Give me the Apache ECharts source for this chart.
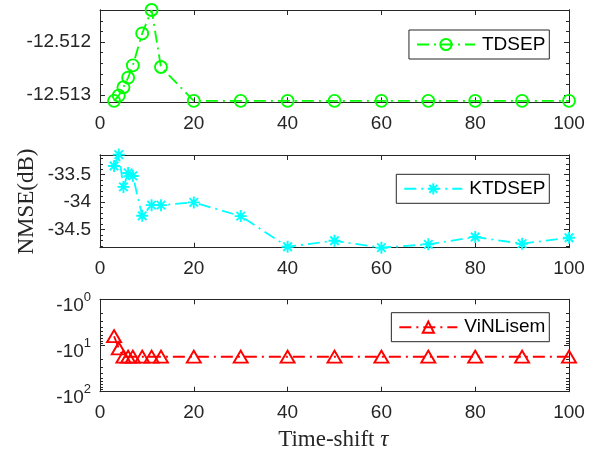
<!DOCTYPE html>
<html><head><meta charset="utf-8">
<script src="https://cdn.jsdelivr.net/npm/echarts@6/dist/echarts.min.js"></script>
<style>html,body{margin:0;padding:0;background:#fff}#c{width:600px;height:453px}</style>
</head><body><div id="c"></div>
<script>
// ---- data ----
const tau = [3, 4, 5, 6, 7, 9, 11, 13, 20, 30, 40, 50, 60, 70, 80, 90, 100];
const tdsep = [-12.513113, -12.513013, -12.512855, -12.512674, -12.51244, -12.511836, -12.511392, -12.512472,
  -12.513113, -12.513113, -12.513113, -12.513113, -12.513113, -12.513113, -12.513113, -12.513113, -12.513113];
const ktdsep = [-33.34, -33.133, -33.722, -33.467, -33.522, -34.249, -34.055, -34.055, -34.005, -34.255,
  -34.813, -34.704, -34.831, -34.769, -34.636, -34.758, -34.649];
const vinlisem = [-6.3, -11.5, -17.5, -17.5, -17.5, -17.5, -17.5, -17.5, -17.5, -17.5, -17.5, -17.5, -17.5, -17.5, -17.5, -17.5, -17.5];
const xTicks = [0, 20, 40, 60, 80, 100];
const tdsepTicks = [-12.513, -12.512];
const tdsepMinor = [-12.5128, -12.5126, -12.5124, -12.5122, -12.5118, -12.5116, -12.5114];
const ktdsepTicks = [-34.5, -34, -33.5];
const ktdsepMinor = [-34.8, -34.7, -34.6, -34.4, -34.3, -34.2, -34.1, -33.9, -33.8, -33.7, -33.6, -33.4, -33.3, -33.2];
const vinTicks = [1, 10, 100];
const vinMinor = [2, 3, 4, 5, 6, 7, 8, 9, 20, 30, 40, 50, 60, 70, 80, 90];
const names = ['TDSEP', 'KTDSEP', 'ViNLisem'];

// ---- layout/style ----
const AX = '#262626';
const SANS = 'Liberation Sans, Arial, Helvetica, sans-serif';
const SERIF = 'Liberation Serif, Times New Roman, serif';
const grids = [
  {left: 100, right: 31, top: 10, height: 92.3},
  {left: 100, right: 31, top: 155, height: 92.7},
  {left: 100, right: 31, top: 299.3, height: 92.4}
];
const yRange = [
  {min: -12.51314, max: -12.511392},
  {min: -34.831, max: -33.14},
  {min: 1, max: 100}
];
const yMaj = [tdsepTicks, ktdsepTicks, vinTicks];
const yMin = [tdsepMinor, ktdsepMinor, vinMinor];

const xAxis = [], yAxis = [];
grids.forEach((g, i) => {
  ['bottom', 'top'].forEach(pos => {
    xAxis.push({
      type: 'value', gridIndex: i, position: pos, min: 0, max: 100, interval: 20,
      axisLine: {show: true, onZero: false, lineStyle: {color: AX, width: 1}},
      axisTick: {show: true, inside: true, length: 5, lineStyle: {color: AX}, customValues: xTicks},
      axisLabel: {show: pos === 'bottom', fontSize: 19, fontFamily: SANS, color: AX, margin: 12, customValues: xTicks},
      splitLine: {show: false}
    });
  });
  const isLog = i === 2;
  ['left', 'right'].forEach(pos => {
    [true, false].forEach(major => {
      const ax = {
        type: isLog ? 'log' : 'value', gridIndex: i, position: pos, min: yRange[i].min, max: yRange[i].max,
        inverse: isLog, logBase: 10,
        axisLine: {show: true, onZero: false, lineStyle: {color: AX, width: 1}},
        axisTick: {show: true, inside: true, length: major ? 5 : 3, lineStyle: {color: AX},
          customValues: major ? yMaj[i] : yMin[i]},
        axisLabel: {show: major && pos === 'left', fontSize: 19, fontFamily: SANS, color: AX, margin: 9,
          padding: [4, 0, 0, 0], customValues: yMaj[i]},
        splitLine: {show: false}
      };
      if (isLog) {
        ax.axisLabel.padding = 0;
        ax.axisLabel.formatter = v => '{b|-10}{s|' + Math.round(Math.log10(v)) + '}';
        ax.axisLabel.rich = {
          b: {fontSize: 19, fontFamily: SANS, color: AX, padding: [12, 0, 0, 0]},
          s: {fontSize: 13, fontFamily: SANS, color: AX, padding: [0, 0, 4, 0]}
        };
      }
      yAxis.push(ax);
    });
  });
});

const dash = [12, 5, 2, 5];
const asterisk = 'path://M0 5L10 5M5 0L5 10M1.46 1.46L8.54 8.54M1.46 8.54L8.54 1.46';
const colors = ['#00ff00', '#00ffff', '#ff0000'];
const symbols = ['circle', asterisk, 'triangle'];
const sizes = [12, 12, [14, 12]];
const values = [tdsep, ktdsep, vinlisem.map(v => Math.abs(v))];

const series = names.map((n, i) => ({
  name: n, type: 'line', xAxisIndex: i * 2, yAxisIndex: i * 4,
  data: tau.map((t, k) => [t, values[i][k]]),
  color: colors[i], symbol: symbols[i], symbolSize: sizes[i], showAllSymbol: true, clip: false,
  itemStyle: {color: 'rgba(0,0,0,0)', borderColor: colors[i], borderWidth: 1.9},
  lineStyle: {color: colors[i], width: 1.8, type: dash},
  emphasis: {disabled: true}, animation: false
}));

const legTops = [30, 174.3, 312.7];
const legend = names.map((n, i) => ({
  data: [n], right: 50.7, top: legTops[i], orient: 'horizontal',
  itemWidth: 58, itemHeight: 14, itemGap: 0,
  backgroundColor: '#fff', borderColor: AX, borderWidth: 1, borderRadius: 0,
  padding: [5, 4, 5, 7],
  textStyle: {fontSize: 19, fontFamily: SANS, color: '#000', padding: [0, 0, 0, 2]},
  selectedMode: false
}));

const chart = echarts.init(document.getElementById('c'), null, {renderer: 'canvas'});
chart.setOption({
  animation: false,
  backgroundColor: '#fff',
  grid: grids,
  xAxis, yAxis, series, legend,
  graphic: [
    {type: 'text', x: 26.7, y: 201.5, rotation: Math.PI / 2,
      style: {text: 'NMSE(dB)', fill: AX, font: '23px ' + SERIF, align: 'center', verticalAlign: 'middle'}},
    {type: 'text', x: 333.3, y: 440,
      style: {text: 'Time-shift {i|τ}', fill: AX, font: '23px ' + SERIF, fontSize: 23, fontFamily: SERIF,
        align: 'center', verticalAlign: 'middle',
        rich: {i: {fontStyle: 'italic', fontSize: 23, fontFamily: SERIF, fill: AX}}}}
  ]
});
</script></body></html>
